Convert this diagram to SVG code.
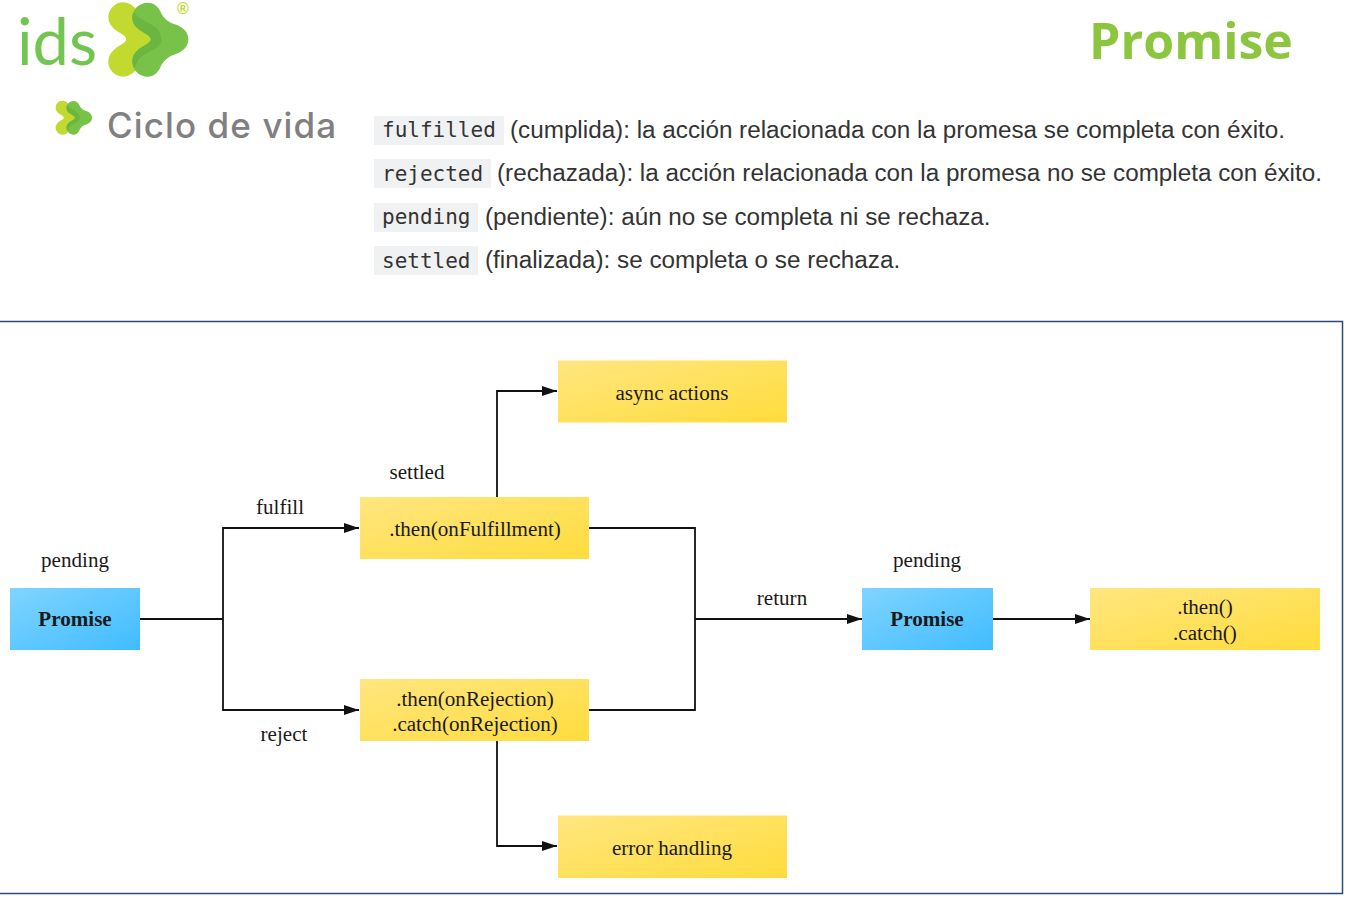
<svg xmlns="http://www.w3.org/2000/svg" width="1366" height="922" viewBox="0 0 1366 922">
<style>
.s{font-family:"Liberation Serif",serif;font-size:21.100px;fill:#1a1a1a;text-anchor:middle}
.b{font-weight:bold}
.m{font-family:"DejaVu Sans Mono",monospace;font-size:21px;fill:#333}
.t{font-family:"Liberation Sans",Arial,sans-serif;font-size:24.250px;fill:#333}
.c{fill:#f0f1f2}
.l{fill:none;stroke:#111;stroke-width:1.8}
.y{fill:url(#yg)}
.bl{fill:url(#bg)}
</style>
<defs>
<linearGradient id="yg" x1="0" y1="0" x2="1" y2="1"><stop offset="0" stop-color="#ffe680"/><stop offset="1" stop-color="#ffdc3c"/></linearGradient>
<linearGradient id="bg" x1="0" y1="0" x2="1" y2="1"><stop offset="0" stop-color="#80d4ff"/><stop offset="1" stop-color="#40bcff"/></linearGradient>
<marker id="a" markerUnits="userSpaceOnUse" markerWidth="16" markerHeight="10" refX="15" refY="5" orient="auto"><path d="M0 0L15 5L0 10Z" fill="#111"/></marker>
<g id="logo" transform="scale(0.33333)">
<path fill="#c2d92f" d="M370 7A45 45 0 0 1 412 36C425 75 452 100 452 118C452 136 425 160 412 200A45 45 0 0 1 370 230A45 45 0 0 1 325 185C325 160 345 145 362 135C375 128 378 124 378 118C378 112 375 108 362 100C345 90 325 77 325 52A45 45 0 0 1 370 7Z"/>
<path fill="#78c24a" d="M443 8C462 8 475 20 482 36C490 55 505 66 522 72C548 80 565 95 565 118C565 141 548 156 522 164C505 170 490 181 482 200C475 216 462 230 443 230C418 230 397 210 397 185C397 165 408 152 425 142C442 132 452 126 452 118C452 110 442 104 425 94C408 84 397 72 397 52C397 28 418 8 443 8Z"/>
<path fill="#6bb640" d="M402 35C415 60 450 65 470 85C482 98 484 110 484 120C484 140 460 148 440 160C422 170 410 182 404 205C399 198 397 192 397 185C397 165 408 152 425 142C442 132 452 126 452 118C452 110 442 104 425 94C408 84 397 72 397 52C397 45 399 40 402 35Z"/>
</g>
</defs>
<rect width="1366" height="922" fill="#fff"/>
<g id="header">
<text x="17" y="65" font-family="Lato,sans-serif" font-weight="400" font-size="65" fill="#72c550">ids</text>
<use href="#logo"/>
<text x="183" y="14" text-anchor="middle" font-family="'Liberation Sans',sans-serif" font-weight="bold" font-size="16" fill="#c2d92f">®</text>
<text x="1191" y="59" text-anchor="middle" font-family="'Open Sans',sans-serif" font-weight="700" font-size="50" fill="#8cc63f">Promise</text>
<use href="#logo" transform="translate(6.300 99.800) scale(0.455)"/>
<text x="107" y="138" font-family="Inter,sans-serif" font-weight="500" font-size="35" letter-spacing="1.100" fill="#808080">Ciclo de vida</text>
</g>
<g id="definitions">
<rect class="c" x="374" y="116" width="130" height="29"/>
<text class="m" x="382" y="137">fulfilled</text>
<text class="t" x="510" y="138">(cumplida): la acción relacionada con la promesa se completa con éxito.</text>
<rect class="c" x="374" y="159" width="117" height="29"/>
<text class="m" x="382" y="181">rejected</text>
<text class="t" x="497" y="181">(rechazada): la acción relacionada con la promesa no se completa con éxito.</text>
<rect class="c" x="374" y="203" width="104" height="29"/>
<text class="m" x="382" y="224">pending</text>
<text class="t" x="485" y="225">(pendiente): aún no se completa ni se rechaza.</text>
<rect class="c" x="374" y="246" width="104" height="29"/>
<text class="m" x="382" y="268">settled</text>
<text class="t" x="485" y="268">(finalizada): se completa o se rechaza.</text>
</g>
<rect id="frame" x="-1" y="321.500" width="1343.500" height="572" fill="none" stroke="#2c4a7c" stroke-width="1.500"/>
<g id="connectors">
<path class="l" d="M140 619H223"/>
<path class="l" d="M223 619V528H359" marker-end="url(#a)"/>
<path class="l" d="M223 619V710H359" marker-end="url(#a)"/>
<path class="l" d="M497 497V391H557" marker-end="url(#a)"/>
<path class="l" d="M497 741V846H557" marker-end="url(#a)"/>
<path class="l" d="M589 528H695V710H589"/>
<path class="l" d="M695 619H862" marker-end="url(#a)"/>
<path class="l" d="M992 619H1090" marker-end="url(#a)"/>
<text class="s" x="280" y="514">fulfill</text>
<text class="s" x="284" y="741">reject</text>
<text class="s" x="782" y="605">return</text>
</g>
<g id="promise1"><rect class="bl" x="10" y="588" width="130" height="62"/><text class="s b" x="75" y="626">Promise</text><text class="s" x="75" y="567">pending</text></g>
<g id="then-fulfill"><rect class="y" x="360" y="497" width="229" height="62"/><text class="s" x="475" y="536">.then(onFulfillment)</text><text class="s" x="417" y="479">settled</text></g>
<g id="then-reject"><rect class="y" x="360" y="679" width="229" height="62"/><text class="s" x="475" y="706">.then(onRejection)</text><text class="s" x="475" y="731">.catch(onRejection)</text></g>
<g id="async"><rect class="y" x="558" y="360.500" width="229" height="62"/><text class="s" x="672" y="400">async actions</text></g>
<g id="error"><rect class="y" x="558" y="815.500" width="229" height="62.500"/><text class="s" x="672" y="855">error handling</text></g>
<g id="promise2"><rect class="bl" x="862" y="588" width="131" height="62"/><text class="s b" x="927" y="626">Promise</text><text class="s" x="927" y="567">pending</text></g>
<g id="then-catch"><rect class="y" x="1090" y="588" width="230" height="62"/><text class="s" x="1205" y="614">.then()</text><text class="s" x="1205" y="640">.catch()</text></g>
</svg>
